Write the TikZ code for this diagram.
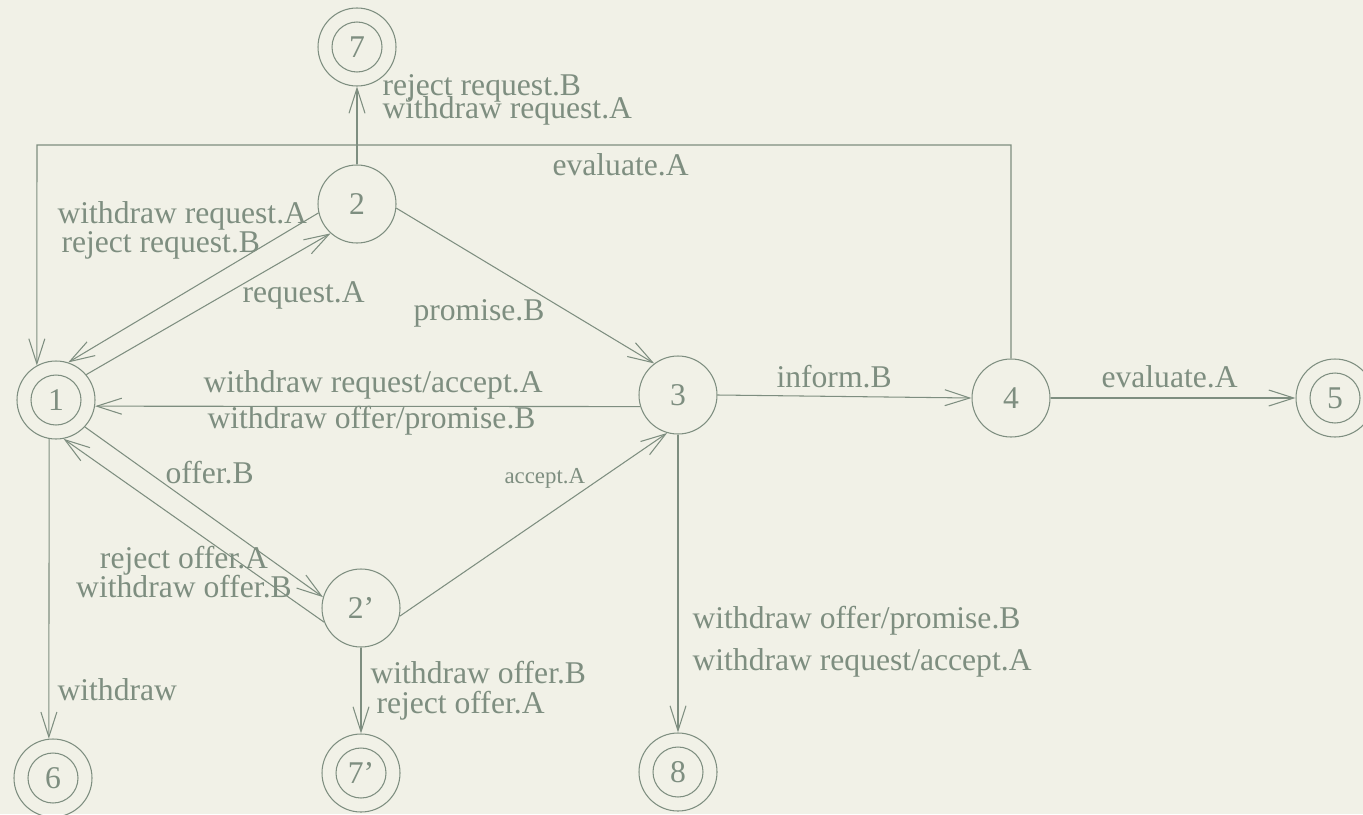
\documentclass[tikz,border=0pt]{standalone}
\usepackage{fontspec}
\setmainfont{Liberation Serif}
\usetikzlibrary{arrows.meta}
\definecolor{bg}{RGB}{241,241,231}
\definecolor{fg}{RGB}{126,142,128}
\newcommand{\lblfont}[1]{\fontsize{9}{#1}\selectfont\lineskiplimit=-20pt}
\tikzset{
    vertex/.style={circle,draw=fg,text=fg,minimum size=7.8mm,inner sep=0pt,font=\fontsize{9}{10}\selectfont},
    final/.style={vertex,path picture={\draw[fg] (path picture bounding box.center) circle (2.5mm);}},
    edge/.style={->,> = {Straight Barb[length=2.5mm,width=1.6mm]}, draw=fg},
    lbl/.style={text=fg,inner sep=0pt,anchor=base west,align=left,font=\lblfont{10}},
}
\begin{document}
\begin{tikzpicture}[line width=0.3pt]
\fill[bg] (0,0) rectangle (13.63,-8.14);
\useasboundingbox (0,0) rectangle (13.63,-8.14);
\node[final] (1) at (0.56,-4.00) {1};
\node[vertex] (2) at (3.57,-2.04) {2};
\node[vertex] (2p) at (3.61,-6.08) {2'};
\node[vertex] (3) at (6.78,-3.95) {3};
\node[vertex] (4) at (10.11,-3.98) {4};
\node[final] (5) at (13.35,-3.98) {5};
\node[final] (6) at (0.53,-7.78) {6};
\node[final] (7) at (3.57,-0.47) {7};
\node[final] (7p) at (3.61,-7.73) {7'};
\node[final] (8) at (6.78,-7.72) {8};
\coordinate (top) at (0.37,-1.45);
\draw[edge] (1.40) -- (2.228);
\draw[edge] (2.193) -- (1.72);
\draw[edge] (2.354) -- (3.127);
\draw[edge] (3.197) -- (1.351);
\draw[edge] (1.317) -- (2p.164);
\draw[edge] (2p.201) -- (1.281);
\draw[edge] (2p.348) -- (3.254);
\draw[edge] (1.260) -- (6.96);
\draw[edge] (2p.south) -- (7p.north);
\draw[edge] (3.south) -- (8.north);
\draw[edge] (3.east) -- (4.west);
\draw[edge] (4.east) -- (5.west);
\draw[edge] (2.north) -- (7.south);
\draw[edge] (4.north) |- (top) -- (1.119);
% labels, multi-line ones hang on the baseline of their last line
\node[lbl,font=\lblfont{6.5}] (l27) at (3.82,-1.18) {reject request.B\\withdraw request.A};
\node[lbl] (l41) at (5.52,-1.75) {evaluate.A};
\node[lbl,font=\lblfont{8.2}] (l21) at (0.57,-2.52) {withdraw request.A\\\hspace{0.04cm}reject request.B};
\node[lbl] (l12) at (2.42,-3.02) {request.A};
\node[lbl] (l23) at (4.13,-3.20) {promise.B};
\node[lbl,font=\lblfont{10.2}] (l31) at (2.03,-4.28) {withdraw request/accept.A\\\hspace{0.04cm}withdraw offer/promise.B};
\node[lbl] (l12p) at (1.65,-4.83) {offer.B};
\node[lbl,anchor=base,align=center,font=\lblfont{8.2}] (l2p1) at (1.84,-5.97) {reject offer.A\\withdraw offer.B};
\node[lbl,font=\fontsize{6.5}{8}\selectfont] (l2p3) at (5.04,-4.83) {accept.A};
\node[lbl] (l16) at (0.57,-7.00) {withdraw};
\node[lbl,font=\lblfont{8.5}] (l2p7) at (3.70,-7.13) {withdraw offer.B\\\hspace{0.06cm}reject offer.A};
\node[lbl,font=\lblfont{11.9}] (l38) at (6.92,-6.70) {withdraw offer/promise.B\\withdraw request/accept.A};
\node[lbl] (l34) at (7.76,-3.87) {inform.B};
\node[lbl] (l45) at (11.01,-3.87) {evaluate.A};
\end{tikzpicture}
\end{document}
